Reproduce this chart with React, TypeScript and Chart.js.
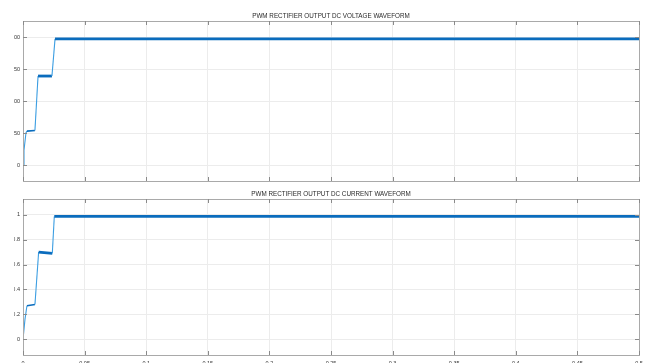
import React, { useEffect, useRef } from "react";
import { Chart, registerables } from "chart.js";
Chart.register(...registerables);

// ---- data ----
const voltageTime = [0, 0.0008, 0.0024, 0.0032, 0.0097, 0.0122, 0.0235, 0.026, 0.5];
const voltageValues = [0, 23, 50, 53, 54, 139, 139, 197, 197];
const currentTime = [0, 0.0016, 0.0032, 0.0097, 0.0127, 0.0238, 0.0254, 0.5];
const currentValues = [0, 0.16, 0.27, 0.28, 0.7, 0.69, 0.985, 0.985];
const xTicks = [0, 0.05, 0.1, 0.15, 0.2, 0.25, 0.3, 0.35, 0.4, 0.45, 0.5];
const voltageTicks = [0, 50, 100, 150, 200];
const currentTicks = [0, 0.2, 0.4, 0.6, 0.8, 1];
const voltageTitle = "PWM RECTIFIER OUTPUT DC VOLTAGE WAVEFORM";
const currentTitle = "PWM RECTIFIER OUTPUT DC CURRENT WAVEFORM";

const FONT = "'Liberation Sans', Arial, Helvetica, sans-serif";

const framePlugin = {
  id: "frame",
  afterDraw(chart: any, _args: any, opts: any) {
    const { ctx, chartArea: a, scales } = chart;
    ctx.save();
    ctx.strokeStyle = "#a9a9a9";
    ctx.lineWidth = 1;
    ctx.strokeRect(Math.round(a.left) + 0.5, Math.round(a.top) + 0.5, Math.round(a.right - a.left), Math.round(a.bottom - a.top));
    ctx.strokeStyle = "#8a8a8a";
    const L = 4;
    ctx.beginPath();
    for (const t of scales.x.ticks) {
      const x = Math.round(scales.x.getPixelForValue(t.value)) + 0.5;
      ctx.moveTo(x, a.top);
      ctx.lineTo(x, a.top + L);
      ctx.moveTo(x, a.bottom);
      ctx.lineTo(x, a.bottom - L);
    }
    for (const t of scales.y.ticks) {
      const y = Math.round(scales.y.getPixelForValue(t.value)) + 0.5;
      ctx.moveTo(a.left, y);
      ctx.lineTo(a.left + L, y);
      ctx.moveTo(a.right, y);
      ctx.lineTo(a.right - L, y);
    }
    ctx.stroke();
    // title centred over the plot box
    if (opts && opts.text) {
      ctx.fillStyle = "#2a2a2a";
      ctx.font = `6.3px ${FONT}`;
      ctx.textAlign = "center";
      ctx.textBaseline = "middle";
      ctx.fillText(opts.text, (a.left + a.right) / 2, a.top - 5);
    }
    ctx.restore();
  },
};

function makeConfig(
  title: string,
  xs: number[],
  ys: number[],
  yMin: number,
  yMax: number,
  yTicks: number[],
  showXLabels: boolean,
  topPad: number,
  xHeight: number
): any {
  const tol = (yMax - yMin) * 0.01;
  const isFlat = (c: any) => Math.abs(c.p1.parsed.y - c.p0.parsed.y) < tol;
  return {
    type: "line",
    data: {
      datasets: [
        {
          data: xs.map((x, i) => ({ x, y: ys[i] })),
          borderColor: "#0a6ebd",
          borderWidth: 1.2,
          pointRadius: 0,
          tension: 0,
          segment: {
            borderWidth: (c: any) =>
              isFlat(c) ? (c.p0.parsed.y > yMax * 0.5 ? 2.8 : 1.6) : 1.1,
            borderColor: (c: any) => (isFlat(c) ? "#0a6cbd" : "#3c9ee2"),
          },
        },
      ],
    },
    options: {
      responsive: false,
      animation: false,
      layout: { padding: { left: 0, right: 10, top: topPad, bottom: 0 } },
      plugins: {
        legend: { display: false },
        tooltip: { enabled: false },
        title: { display: false },
        frame: { text: title },
      },
      scales: {
        x: {
          type: "linear",
          min: 0,
          max: 0.5,
          afterBuildTicks: (s: any) => {
            s.ticks = xTicks.map((v) => ({ value: v }));
          },
          afterFit: (s: any) => {
            s.height = xHeight;
          },
          grid: { color: "#ececec", drawTicks: false },
          border: { display: false },
          ticks: {
            display: showXLabels,
            padding: 5,
            color: "#333",
            font: { family: FONT, size: 5.5 },
            maxRotation: 0,
            autoSkip: false,
            callback: (v: any) => String(parseFloat(Number(v).toFixed(2))),
          },
        },
        y: {
          type: "linear",
          min: yMin,
          max: yMax,
          afterBuildTicks: (s: any) => {
            s.ticks = yTicks.map((v) => ({ value: v }));
          },
          afterFit: (s: any) => {
            s.width = 36;
          },
          grid: { color: "#ececec", drawTicks: false },
          border: { display: false },
          ticks: {
            padding: 3,
            color: "#333",
            font: { family: FONT, size: 5.5 },
            autoSkip: false,
            callback: (v: any) => String(parseFloat(Number(v).toFixed(2))),
          },
        },
      },
    },
    plugins: [framePlugin],
  };
}

export default function App() {
  const topRef = useRef<HTMLCanvasElement>(null);
  const botRef = useRef<HTMLCanvasElement>(null);

  useEffect(() => {
    const c1 = new Chart(
      topRef.current!,
      makeConfig(voltageTitle, voltageTime, voltageValues, -25, 225, voltageTicks, false, 21, 9)
    );
    const c2 = new Chart(
      botRef.current!,
      makeConfig(currentTitle, currentTime, currentValues, -0.125, 1.125, currentTicks, true, 17, 17)
    );
    return () => {
      c1.destroy();
      c2.destroy();
    };
  }, []);

  return (
    <div
      style={{
        position: "fixed",
        left: 0,
        top: 0,
        width: 649,
        height: 363,
        overflow: "hidden",
        background: "#fff",
      }}
    >
      <div
        style={{
          position: "absolute",
          left: 14,
          top: 0,
          width: 635,
          height: 363,
          overflow: "hidden",
        }}
      >
        <canvas
          ref={topRef}
          width={662}
          height={190}
          style={{ position: "absolute", left: -27, top: 0, width: 662, height: 190 }}
        />
        <canvas
          ref={botRef}
          width={662}
          height={190}
          style={{ position: "absolute", left: -27, top: 182, width: 662, height: 190 }}
        />
      </div>
    </div>
  );
}
